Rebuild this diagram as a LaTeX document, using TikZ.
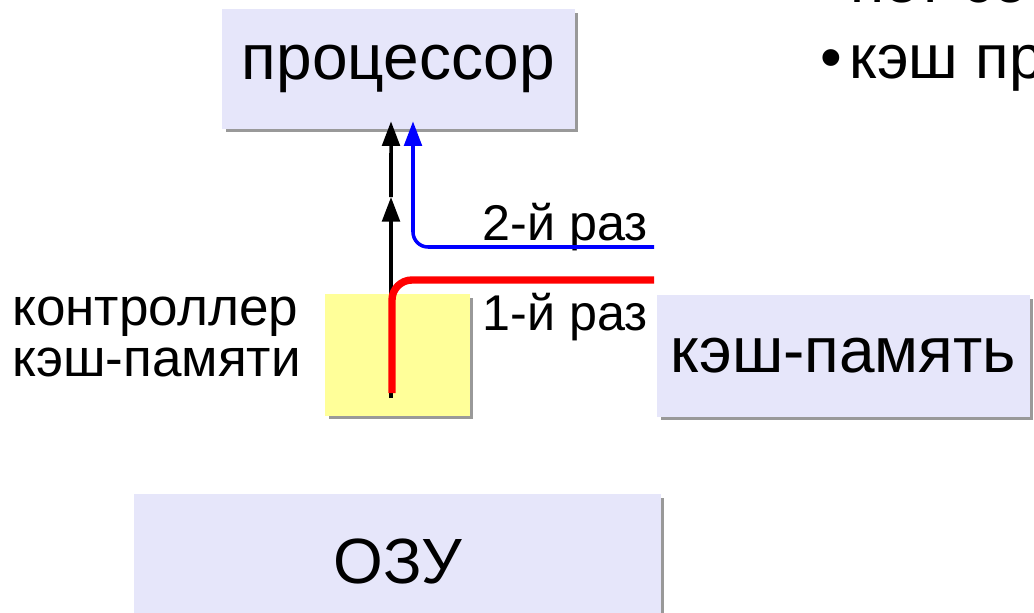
\documentclass[tikz,border=0pt]{standalone}
\usepackage{fontspec}
\setmainfont{Liberation Sans}
\usepackage{xcolor}
\usetikzlibrary{shapes,arrows.meta,positioning,shadows}

\definecolor{boxlav}{RGB}{230,230,250}
\definecolor{boxyel}{RGB}{255,255,153}

\begin{document}
\begin{tikzpicture}[x=0.02cm, y=-0.02cm]
  % Styles
  \tikzset{
    unit/.style={rectangle, fill=boxlav, inner sep=0pt,
      font=\fontsize{36.4}{40}\selectfont,
      drop shadow={shadow xshift=0.07cm, shadow yshift=-0.07cm, fill=black, opacity=0.4}},
    ctrlbox/.style={rectangle, fill=boxyel, inner sep=0pt,
      drop shadow={shadow xshift=0.07cm, shadow yshift=-0.07cm, fill=black, opacity=0.4}},
    caption/.style={inner sep=0pt, font=\fontsize{30.2}{29}\selectfont},
    pass/.style={inner sep=0pt, font=\fontsize{28.6}{30}\selectfont},
    slide/.style={inner sep=0pt, font=\fontsize{35.2}{40}\selectfont},
    blackarrow/.style={-{Triangle[length=14pt, width=10pt]}, line width=2pt, black},
    bluearrow/.style={-{Triangle[length=14pt, width=10pt]}, line width=2pt, blue, rounded corners=0.3cm},
    redline/.style={line width=4.2pt, red, rounded corners=0.4cm}
  }
  \useasboundingbox (0,0) rectangle (1034,612);

  % Blocks
  \node[unit, minimum width=7.06cm, minimum height=2.4cm] (cpu) at (398.5,69) {процессор};
  \node[ctrlbox, minimum width=2.9cm, minimum height=2.44cm] (ctrl) at (397.5,355) {};
  \node[unit, minimum width=7.46cm, minimum height=2.44cm] (cache) at (843.5,356) {кэш-память};
  \node[unit, minimum width=10.54cm, minimum height=2.68cm] (ram) at (397.5,561) {ОЗУ};

  % Labels
  \node[caption, anchor=north west, align=left] (ctrllabel) at (12,297) {контроллер\\кэш-памяти};
  \node[pass, anchor=base east] (second) at (648,240) {2-й раз};
  \node[pass, anchor=base east] (first) at (648,330) {1-й раз};
  \node[slide, anchor=base west] (item1) at (850,3) {нет со};
  \node[slide, anchor=base west] (item2) at (820,78) {\textbullet\kern0.12em кэш пр};

  % Points on the lines
  \coordinate (ctrlin) at (391,398);
  \coordinate (midtip) at (391,197);
  \coordinate (ctrlred) at (392,393);
  \coordinate (hit) at (654,247);
  \coordinate (miss) at (654,280);

  % Arrows
  \draw[blackarrow] (ctrlin) -- (midtip);
  \draw[blackarrow] (midtip) -- ([xshift=-0.15cm, yshift=0.16cm]cpu.south);
  \draw[bluearrow] (hit) -| ([xshift=0.29cm, yshift=0.16cm]cpu.south);
  \draw[redline] (ctrlred) |- (miss);

\end{tikzpicture}
\end{document}
